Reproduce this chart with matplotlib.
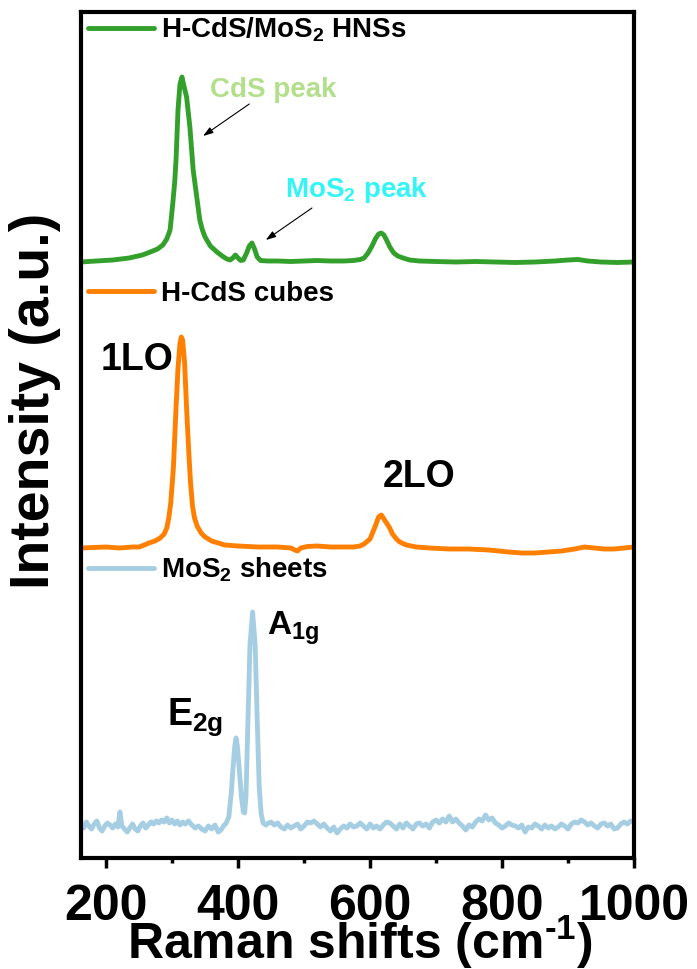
import matplotlib
matplotlib.use("Agg")
import matplotlib.pyplot as plt
from matplotlib.lines import Line2D

plt.rcParams["font.family"] = ["Liberation Sans", "DejaVu Sans"]
plt.rcParams["font.weight"] = "bold"
plt.rcParams["mathtext.fontset"] = "custom"
plt.rcParams["mathtext.rm"] = "Liberation Sans:bold"
plt.rcParams["mathtext.bf"] = "Liberation Sans:bold"
plt.rcParams["mathtext.it"] = "Liberation Sans:bold"
plt.rcParams["mathtext.default"] = "rm"

# ---------------- data (Raman shift in cm-1, intensity in a.u.) ----------------
series_labels = ["H-CdS/MoS$_2$ HNSs", "H-CdS cubes", "MoS$_2$ sheets"]
series_colors = ["#33a02c", "#ff7f00", "#a6cee3"]
series_offsets = [596, 310, 32]

hns_x = [162, 185, 210, 235, 255, 267, 278, 286, 292, 297, 301, 304, 306, 309, 312,
         315, 318, 322, 327, 332, 338, 342, 346, 350, 358, 368, 376, 383, 388, 392,
         396, 400, 404, 408, 413, 417, 421, 425, 429, 434, 445, 460, 480, 500, 520,
         540, 560, 575, 585, 591, 597, 603, 608, 613, 617, 621, 625, 630, 636, 642,
         650, 660, 675, 700, 730, 760, 790, 820, 850, 880, 900, 915, 930, 950, 975, 1000]
hns_y = [0, 1, 2, 4, 7, 10, 13, 17, 23, 32, 58, 80, 102, 152, 178,
         185, 176, 165, 135, 92, 62, 42, 32, 25, 16, 10, 6, 3, 2, 4,
         7, 4, 1.5, 2, 9, 16, 19, 13, 5, 1.5, 1, 1, 0.5, 1, 1.5,
         1, 1, 1.5, 2.5, 4, 9, 16, 23, 28, 29, 27, 22, 15, 9, 6,
         4, 2, 1, 0.5, 0, 0.5, 0, -0.5, 0, 1, 2, 2.5, 1, 0, -0.5, 0]

cubes_x = [162, 180, 200, 220, 240, 250, 258, 265, 274, 282, 288, 292, 295, 298, 302,
           306, 309, 312, 314, 316, 319, 322, 325, 328, 331, 334, 338, 344, 350, 360,
           370, 380, 400, 430, 460, 480, 486, 490, 495, 505, 520, 540, 560, 575, 585,
           591, 600, 608, 613, 617, 621, 625, 629, 634, 640, 645, 655, 670, 690, 720,
           750, 780, 810, 830, 850, 870, 890, 910, 925, 940, 955, 970, 985, 1000]
cubes_y = [0, 0.5, 1, 0, 1, 1, 3, 5, 7, 10, 14, 20, 30, 45, 80,
           140, 180, 205, 211, 208, 185, 140, 100, 65, 42, 30, 22, 15, 11, 7,
           5, 3, 2, 1, 1, 0, -2, -3, 0, 1.5, 2, 1, 1, 1, 2,
           4, 9, 22, 31, 33, 29, 25, 21, 14, 9, 6, 3, 1, 0, -1,
           -1, -2, -4, -5, -5, -4, -3, -1, 1, 0, -1, -1, 0, 1]

sheets_x = [162, 166, 170, 174, 178, 182, 186, 190, 194, 198, 202, 206, 210, 214, 218,
            221, 224, 228, 232, 236, 240, 244, 248, 252, 256, 260, 264, 268, 272, 276,
            280, 284, 288, 292, 296, 300, 304, 308, 312, 316, 320, 325, 330, 335, 340,
            345, 350, 355, 360, 365, 370, 374, 378, 382, 386, 390, 392, 395, 397, 399,
            402, 405, 408, 410, 412, 415, 418, 422, 426, 429, 432, 435, 438, 442, 446,
            450, 455, 460, 465, 470, 475, 480, 485, 490, 495, 500, 505, 510, 515, 520,
            525, 530, 535, 540, 545, 550, 555, 560, 565, 570, 575, 580, 585, 590, 595,
            600, 605, 610, 615, 620, 625, 630, 635, 640, 645, 650, 655, 660, 665, 670,
            675, 680, 685, 690, 695, 700, 705, 710, 715, 720, 725, 730, 735, 740, 745,
            750, 755, 760, 765, 770, 775, 780, 785, 790, 795, 800, 805, 810, 815, 820,
            825, 830, 835, 840, 845, 850, 855, 860, 865, 870, 875, 880, 885, 890, 895,
            900, 905, 910, 915, 920, 925, 930, 935, 940, 945, 950, 955, 960, 965, 970,
            975, 980, 985, 990, 995, 1000]
sheets_y = [2, -2, 4, 0, -3, 2, 5, -2, -5, 0, 3, 1, -2, 2, -1,
            14, 0, -3, -6, -2, 2, -3, -5, 0, 3, -2, 1, 4, 2, 5,
            3, 6, 4, 8, 3, 6, 2, 5, 1, 4, 2, 5, 1, -2, 0,
            -3, -5, 0, -3, 1, -6, -4, 0, 3, 9, 35, 55, 80, 88, 80,
            55, 30, 14, 13, 30, 107, 180, 214, 180, 107, 40, 12, 3, 1, 3,
            4, 1, 3, -1, -3, 1, -2, 0, 2, -3, 0, 4, 3, 5, 2,
            -1, 2, -2, -5, -1, -7, -3, 0, -2, 2, -1, 0, 3, 0, -3,
            2, -2, 0, -3, 1, 4, 3, 0, -3, 2, -2, 3, 0, -3, 2,
            3, 0, 2, -2, 4, 6, 3, 7, 4, 10, 4, 7, 3, 0, -4,
            1, -1, 4, 7, 5, 11, 6, 8, 3, 1, -2, 0, 3, 1, 0,
            -2, 1, -6, -1, -2, 2, 0, -3, 1, -2, 0, -3, -1, 2, 0,
            -3, 2, 4, 3, 6, 4, 1, 3, 0, -2, 2, 3, 0, 2, -3,
            -2, 2, 4, 2, 5, 4]

series_x = [hns_x, cubes_x, sheets_x]
series_y = [hns_y, cubes_y, sheets_y]

x_ticks = [200, 400, 600, 800, 1000]
x_minor = [300, 500, 700, 900]

# ---------------- figure ----------------
fig = plt.figure(figsize=(6.97, 9.69), dpi=100)
ax = fig.add_axes([81 / 697, 111 / 969, 553 / 697, 846 / 969])

for xs, ys, off, col in zip(series_x, series_y, series_offsets, series_colors):
    ax.plot(xs, [v + off for v in ys], color=col, lw=3.5, solid_joinstyle="round",
            solid_capstyle="round")

ax.set_xlim(162, 1000)
ax.set_ylim(0, 846)
ax.set_xticks(x_ticks)
ax.set_xticks(x_minor, minor=True)
ax.set_yticks([])
for s in ax.spines.values():
    s.set_linewidth(3)
ax.tick_params(axis="x", which="major", direction="out", length=7, width=2.5,
               labelsize=36, pad=12)
ax.tick_params(axis="x", which="minor", direction="out", length=3.5, width=2.5)
for lab in ax.get_xticklabels():
    lab.set_fontweight("bold")

ax.set_xlabel("Raman shifts (cm$^{\u20101}$)", fontsize=36, fontweight="bold")
ax.xaxis.label.set_va("baseline")
ax.xaxis.set_label_coords(0.505, -0.119)
ax.set_ylabel("Intensity (a.u.)", fontsize=40, fontweight="bold")
ax.yaxis.set_label_coords(-0.036, 0.54)

# legends, one per trace
leg_y = [0.9787, 0.6667, 0.3404]
legs = []
for lab, col, ly in zip(series_labels, series_colors, leg_y):
    lg = ax.legend(handles=[Line2D([], [], color=col, lw=3.5, solid_capstyle="round")],
                   labels=[lab], loc="center left", bbox_to_anchor=(0.012, ly),
                   frameon=False, handlelength=2.4, handletextpad=0.25, borderpad=0,
                   borderaxespad=0, prop={"size": 20, "weight": "bold"})
    legs.append(lg)
for lg in legs[:-1]:
    ax.add_artist(lg)

# annotations
ax.text(357.6, 761, "CdS peak", color="#b2df8a", fontsize=20, fontweight="bold",
        ha="left", va="baseline")
ax.annotate("", xy=(347, 722), xytext=(417, 754),
            arrowprops=dict(arrowstyle="-|>,head_width=0.2,head_length=0.6",
                            color="black", lw=0.8, shrinkA=0, shrinkB=0))
ax.text(471, 661, "MoS$_2$ peak", color="#33f5f5", fontsize=20, fontweight="bold",
        ha="left", va="baseline")
ax.annotate("", xy=(442, 618), xytext=(512, 650),
            arrowprops=dict(arrowstyle="-|>,head_width=0.2,head_length=0.6",
                            color="black", lw=0.8, shrinkA=0, shrinkB=0))
ax.text(191, 488, "1LO", fontsize=27, fontweight="bold", ha="left", va="baseline")
ax.text(620, 371, "2LO", fontsize=27, fontweight="bold", ha="left", va="baseline")
ax.text(444, 223, "A$_{1g}$", fontsize=24, fontweight="bold", ha="left", va="baseline")
ax.text(292, 133, "E$_{2g}$", fontsize=27, fontweight="bold", ha="left", va="baseline")

fig.savefig("out.png", dpi=100)
